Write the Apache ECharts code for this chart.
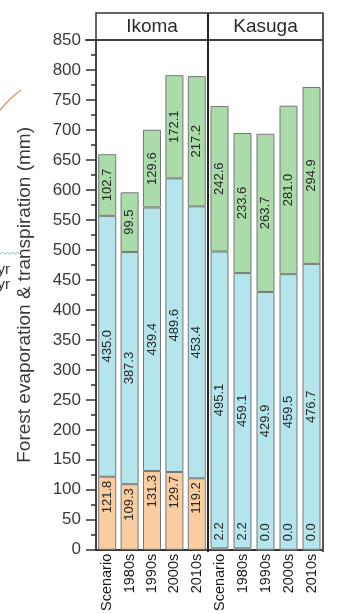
<!DOCTYPE html>
<html>
<head>
<meta charset="utf-8">
<script src="https://cdn.jsdelivr.net/npm/echarts@6/dist/echarts.min.js"></script>
<style>
  html, body { margin: 0; padding: 0; background: #fff; }
  #chart { width: 338px; height: 614px; }
</style>
</head>
<body>
<div id="chart"></div>
<script>
// Forest evaporation & transpiration by site and period (mm)
const categories = ['Scenario', '1980s', '1990s', '2000s', '2010s'];
const sites = ['Ikoma', 'Kasuga'];

// Ikoma components
const ikomaOrange = [121.8, 109.3, 131.3, 129.7, 119.2];
const ikomaBlue   = [435.0, 387.3, 439.4, 489.6, 453.4];
const ikomaGreen  = [102.7, 99.5, 129.6, 172.1, 217.2];

// Kasuga components
const kasugaOrange = [2.2, 2.2, 0.0, 0.0, 0.0];
const kasugaBlue   = [495.1, 459.1, 429.9, 459.5, 476.7];
const kasugaGreen  = [242.6, 233.6, 263.7, 281.0, 294.9];

const yMin = 0, yMax = 850, yStep = 50;

const FONT = '"Liberation Sans", Arial, sans-serif';
const COLORS = { orange: '#FACDA0', blue: '#B4E4EC', green: '#AADCAA' };

const chart = echarts.init(document.getElementById('chart'), null, { renderer: 'canvas' });

const fmt = p => p.value.toFixed(1);

function centerLabel() {
  return {
    show: true, position: 'inside', rotate: 90, align: 'center', verticalAlign: 'middle',
    formatter: fmt, fontFamily: FONT, fontSize: 13, color: '#262626'
  };
}

function seg(name, data, color, idx, label) {
  return {
    name, type: 'bar', stack: 'total' + idx, xAxisIndex: idx, yAxisIndex: idx,
    data, barWidth: 18,
    itemStyle: { color, borderColor: '#777', borderWidth: 1 },
    label, silent: true
  };
}

const xAxisCommon = {
  type: 'category', data: categories,
  axisLine: { show: true, lineStyle: { color: '#333', width: 2 } },
  axisTick: { show: false },
  axisLabel: { rotate: 90, margin: 4, fontFamily: FONT, fontSize: 14.5, color: '#1a1a1a' }
};

// small wavy stroke at the left margin
const wave = [];
for (let i = 0; i <= 8; i++) wave.push([i * 2.5, 254 + (i % 2 ? -1.5 : 0)]);

const option = {
  animation: false,
  backgroundColor: '#fff',
  grid: [
    { left: 96, top: 40, width: 112, height: 512, containLabel: false },
    { left: 208, top: 40, width: 115, height: 512, containLabel: false }
  ],
  xAxis: [
    Object.assign({ gridIndex: 0 }, xAxisCommon),
    Object.assign({ gridIndex: 1 }, xAxisCommon)
  ],
  yAxis: [
    {
      gridIndex: 0, type: 'value', min: yMin, max: yMax, interval: yStep,
      name: 'Forest evaporation & transpiration (mm)', nameLocation: 'middle', nameGap: 62,
      nameTextStyle: { fontFamily: FONT, fontSize: 19, color: '#3a3a3a' },
      axisLine: { show: true, lineStyle: { color: '#444', width: 2 } },
      axisTick: { show: true, inside: false, length: 10, lineStyle: { color: '#333', width: 1.5 } },
      minorTick: { show: true, splitNumber: 2, length: 5, lineStyle: { color: '#333', width: 1.5 } },
      splitLine: { show: false },
      axisLabel: { margin: 15, fontFamily: FONT, fontSize: 17, color: '#3a3a3a' }
    },
    {
      gridIndex: 1, type: 'value', min: yMin, max: yMax, interval: yStep,
      axisLine: { show: false }, axisTick: { show: false }, axisLabel: { show: false },
      splitLine: { show: false }
    }
  ],
  series: [
    seg('orange', ikomaOrange, COLORS.orange, 0, {
      show: true, position: 'insideTop', distance: 4, rotate: 90, align: 'right', verticalAlign: 'middle',
      formatter: fmt, fontFamily: FONT, fontSize: 13, color: '#262626'
    }),
    seg('blue', ikomaBlue, COLORS.blue, 0, centerLabel()),
    seg('green', ikomaGreen, COLORS.green, 0, centerLabel()),
    seg('orange', kasugaOrange, COLORS.orange, 1, {
      show: true, position: 'top', distance: 8, rotate: 90, align: 'left', verticalAlign: 'middle',
      formatter: fmt, fontFamily: FONT, fontSize: 13, color: '#262626'
    }),
    seg('blue', kasugaBlue, COLORS.blue, 1, centerLabel()),
    seg('green', kasugaGreen, COLORS.green, 1, centerLabel())
  ],
  graphic: [
    // site header strip
    { type: 'rect', shape: { x: 96, y: 13, width: 227, height: 27 },
      style: { fill: 'none', stroke: '#333', lineWidth: 1.5 }, z: 10 },
    { type: 'line', shape: { x1: 85, y1: 40, x2: 323, y2: 40 },
      style: { stroke: '#333', lineWidth: 1.5 }, z: 10 },
    { type: 'text', x: 152, y: 27, style: { text: sites[0], fontFamily: FONT, fontSize: 19,
      fill: '#2a2a2a', align: 'center', verticalAlign: 'middle' }, z: 10 },
    { type: 'text', x: 265.5, y: 27, style: { text: sites[1], fontFamily: FONT, fontSize: 19,
      fill: '#2a2a2a', align: 'center', verticalAlign: 'middle' }, z: 10 },
    // panel divider and right frame
    { type: 'line', shape: { x1: 208, y1: 13, x2: 208, y2: 552 },
      style: { stroke: '#222', lineWidth: 2 }, z: 10 },
    { type: 'line', shape: { x1: 323, y1: 13, x2: 323, y2: 552 },
      style: { stroke: '#555', lineWidth: 2 }, z: 10 },
    // fragments at the left margin
    { type: 'bezierCurve', shape: { x1: 0, y1: 110, cpx1: 10, cpy1: 98, x2: 21, y2: 90 },
      style: { fill: 'none', stroke: '#D98A62', lineWidth: 1.2 } },
    { type: 'polyline', shape: { points: wave, smooth: 0.5 },
      style: { fill: 'none', stroke: '#6BB3DD', lineWidth: 1 } },
    { type: 'text', x: 10, y: 270, style: { text: 'yr', fontFamily: FONT, fontSize: 15,
      fill: '#333', align: 'right', verticalAlign: 'middle' } },
    { type: 'text', x: 10, y: 285, style: { text: 'yr', fontFamily: FONT, fontSize: 15,
      fill: '#333', align: 'right', verticalAlign: 'middle' } }
  ]
};

chart.setOption(option);
</script>
</body>
</html>
